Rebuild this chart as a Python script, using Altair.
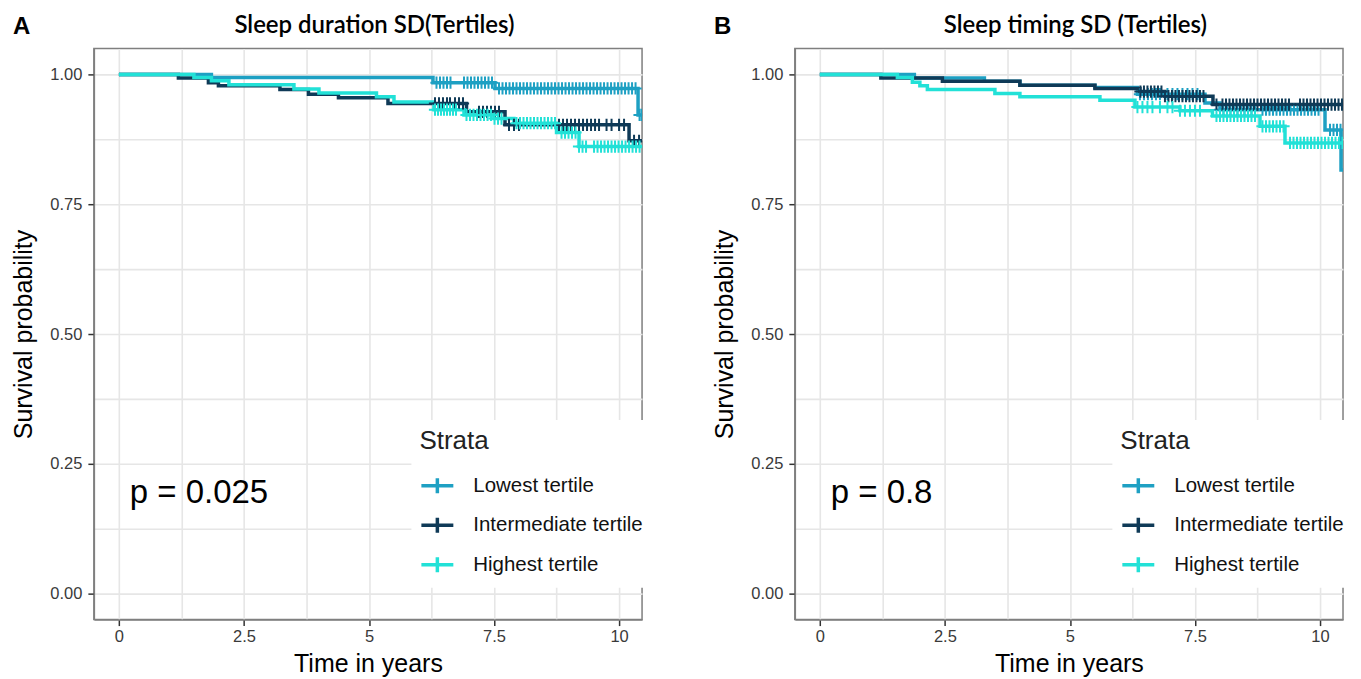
import altair as alt
import pandas as pd

strata = ["Lowest tertile", "Intermediate tertile", "Highest tertile"]
colors = ["#1EA0C3", "#0F3A57", "#22E1D7"]

# ---------------- Panel A: Sleep duration SD ----------------
a_low_t = [0, 1.85, 6.28, 7.52, 10.38]
a_low_s = [1.0, 0.994, 0.984, 0.973, 0.922]
a_mid_t = [0, 1.19, 1.79, 1.99, 3.22, 3.79, 4.39, 5.38, 6.95, 7.72, 10.2]
a_mid_s = [1.0, 0.993, 0.984, 0.978, 0.971, 0.962, 0.955, 0.944, 0.928, 0.903, 0.872]
a_high_t = [0, 1.5, 1.85, 2.2, 3.5, 4.0, 5.15, 5.5, 6.3, 6.9, 7.5, 7.9, 8.75, 9.2]
a_high_s = [1.0, 0.994, 0.988, 0.98, 0.972, 0.964, 0.957, 0.947, 0.932, 0.922, 0.915, 0.906, 0.888, 0.861]

a_low_c = [6.35, 6.42, 6.49, 6.56, 6.63, 6.9, 6.97, 7.04, 7.11, 7.18, 7.25, 7.32, 7.39, 7.46,
           7.6, 7.67, 7.74, 7.81, 7.88, 7.95, 8.02, 8.09, 8.16, 8.23, 8.3, 8.37, 8.44, 8.51,
           8.58, 8.65, 8.72, 8.79, 8.86, 8.93, 9.0, 9.07, 9.14, 9.21, 9.28, 9.35, 9.42, 9.49,
           9.56, 9.63, 9.7, 9.77, 9.84, 9.91, 9.98, 10.05, 10.12, 10.19, 10.26, 10.33, 10.41, 10.45]
a_mid_c = [6.32, 6.4, 6.48, 6.56, 6.62, 6.72, 6.8, 6.88, 7.2, 7.28, 7.36, 7.44, 7.52, 7.6,
           7.8, 7.9, 8.0, 8.8, 8.88, 8.96, 9.04, 9.12, 9.2, 9.28, 9.36, 9.44, 9.52, 9.6,
           9.75, 9.85, 10.0, 10.1, 10.3, 10.4]
a_high_c = [6.32, 6.38, 6.44, 6.5, 6.56, 6.62, 6.68, 6.74, 6.95, 7.02, 7.09, 7.16, 7.23, 7.3,
            7.37, 7.44, 7.51, 7.58, 7.65, 7.95, 8.02, 8.09, 8.16, 8.23, 8.3, 8.37, 8.44, 8.51,
            8.58, 8.65, 8.72, 8.85, 8.92, 8.99, 9.06, 9.13, 9.2, 9.27, 9.34, 9.5, 9.57, 9.64,
            9.71, 9.78, 9.85, 9.92, 9.99, 10.06, 10.13, 10.2, 10.27, 10.34, 10.41]

# ---------------- Panel B: Sleep timing SD ----------------
b_low_t = [0, 1.89, 3.29, 4.0, 5.5, 6.35, 7.7, 8.0, 10.1, 10.42]
b_low_s = [1.0, 0.993, 0.987, 0.979, 0.975, 0.962, 0.945, 0.932, 0.893, 0.816]
b_mid_t = [0, 1.22, 2.45, 4.0, 5.5, 6.4, 6.9, 7.86]
b_mid_s = [1.0, 0.993, 0.987, 0.979, 0.973, 0.967, 0.958, 0.942]
b_high_t = [0, 1.55, 1.85, 2.0, 2.15, 3.5, 4.0, 5.6, 6.3, 7.2, 7.85, 8.8, 9.3]
b_high_s = [1.0, 0.994, 0.985, 0.978, 0.971, 0.963, 0.957, 0.95, 0.937, 0.93, 0.92, 0.9, 0.868]

b_low_c = [6.4, 6.48, 6.56, 6.64, 6.72, 6.8, 6.95, 7.05, 7.15, 7.25, 7.35, 7.45, 7.55,
           8.0, 8.07, 8.14, 8.21, 8.28, 8.35, 8.42, 8.49, 8.56, 8.63, 8.7, 8.85, 8.92, 8.99,
           9.06, 9.13, 9.2, 9.27, 9.34, 9.41, 9.48, 9.55, 9.62, 9.69, 9.76, 9.83, 9.9, 9.97,
           10.2, 10.27, 10.34, 10.41]
b_mid_c = [6.41, 6.48, 6.55, 6.62, 6.69, 6.76, 6.83, 6.9, 6.97, 7.04, 7.11, 7.18, 7.25, 7.32,
           7.39, 7.46, 7.53, 7.6, 7.67, 7.93, 8.05, 8.12, 8.19, 8.26, 8.33, 8.4, 8.47, 8.54,
           8.61, 8.68, 8.75, 8.82, 8.89, 8.96, 9.03, 9.1, 9.17, 9.24, 9.31, 9.38, 9.6, 9.67,
           9.74, 9.81, 9.88, 9.95, 10.02, 10.09, 10.16, 10.23, 10.3, 10.37, 10.44]
b_high_c = [6.35, 6.45, 6.55, 6.65, 6.8, 6.95, 7.05, 7.2, 7.3, 7.4, 7.5, 7.6, 7.93, 8.0,
            8.07, 8.14, 8.21, 8.28, 8.35, 8.42, 8.49, 8.56, 8.63, 8.7, 8.85, 8.92, 8.99, 9.06,
            9.13, 9.2, 9.27, 9.4, 9.47, 9.54, 9.61, 9.68, 9.75, 9.82, 9.89, 9.96, 10.03, 10.1,
            10.17, 10.24, 10.31, 10.38, 10.45]

x_grid = [0, 1.25, 2.5, 3.75, 5, 6.25, 7.5, 8.75, 10]
x_tick_values = [0, 2.5, 5, 7.5, 10]
x_tick_labels = ["0", "2.5", "5", "7.5", "10"]
y_grid = [0, 0.125, 0.25, 0.375, 0.5, 0.625, 0.75, 0.875, 1.0]
y_tick_values = [0, 0.25, 0.5, 0.75, 1.0]
y_tick_labels = ["0.00", "0.25", "0.50", "0.75", "1.00"]

TMAX = 10.8


def step_df(ts_list, ss_list):
    rows = []
    for name, ts, ss in zip(strata, ts_list, ss_list):
        for t, s in zip(ts, ss):
            rows.append({"strata": name, "t": t, "s": s})
        rows.append({"strata": name, "t": TMAX, "s": ss[-1]})
    return pd.DataFrame(rows)


def cens_df(ts_list, ss_list, cs_list):
    rows = []
    for name, ts, ss, cs in zip(strata, ts_list, ss_list, cs_list):
        for c in cs:
            s = ss[0]
            for t, v in zip(ts, ss):
                if t <= c:
                    s = v
            rows.append({"strata": name, "t": c, "s": s})
    return pd.DataFrame(rows)


def arr(vals):
    return "[" + ",".join(repr(v) for v in vals) + "]"


def label_expr(vals, labels):
    v = arr(vals)
    l = "[" + ",".join("'" + s + "'" for s in labels) + "]"
    return f"indexof({v}, datum.value) >= 0 ? {l}[indexof({v}, datum.value)] : ''"


def tick_cond(vals):
    return {"condition": {"test": f"indexof({arr(vals)}, datum.value) < 0", "value": 0}, "value": 1}


AXFONT = "Liberation Sans"

x_axis = alt.Axis(values=x_grid, labelExpr=label_expr(x_tick_values, x_tick_labels),
                  tickOpacity=tick_cond(x_tick_values), title="Time in years",
                  titleFontSize=25, titlePadding=6, labelPadding=3)
y_axis = alt.Axis(values=y_grid, labelExpr=label_expr(y_tick_values, y_tick_labels),
                  tickOpacity=tick_cond(y_tick_values), title="Survival probability",
                  titleFontSize=25, titlePadding=13, minExtent=44, maxExtent=44, labelPadding=6)

legend = alt.Legend(
    orient="none", legendX=318, legendY=372, title="Strata",
    titleFont=AXFONT, titleFontSize=26, titleFontWeight="normal", titleColor="#222222",
    titlePadding=14, labelFont=AXFONT, labelFontSize=20.5, labelColor="#111111",
    labelOffset=18, labelLimit=300, symbolType="M-1,0H1M0,-0.47V0.47", symbolSize=1024,
    symbolStrokeWidth=3.5, symbolFillColor="transparent", fillColor="white",
    padding=8, rowPadding=6.5, direction="vertical")


def panel(lines, cens, title, letter, ptext):
    x = alt.X("t:Q", scale=alt.Scale(domain=[-0.5, 10.46], nice=False, zero=False), axis=x_axis)
    y = alt.Y("s:Q", scale=alt.Scale(domain=[-0.05, 1.05], nice=False, zero=False), axis=y_axis)
    color = alt.Color("strata:N", scale=alt.Scale(domain=strata, range=colors), legend=legend)
    layers = []
    for name in strata:
        layers.append(
            alt.Chart(lines).transform_filter(alt.datum.strata == name)
            .mark_line(interpolate="step-after", strokeWidth=3.5, clip=True)
            .encode(x=x, y=y, color=color))
    for name in strata:
        layers.append(
            alt.Chart(cens).transform_filter(alt.datum.strata == name)
            .mark_point(shape="M-1,0H1M0,-1V1", filled=False, size=150, strokeWidth=2,
                        opacity=1, clip=True)
            .encode(x=x, y=y, color=color))
    letter_layer = alt.Chart(pd.DataFrame({"lab": [letter]})).mark_text(
        align="left", baseline="middle", font=AXFONT, fontSize=24, fontWeight="bold",
        color="black").encode(x=alt.value(-81), y=alt.value(-21), text="lab:N")
    title_layer = alt.Chart(pd.DataFrame({"lab": [title]})).mark_text(
        align="center", baseline="middle", font="Lato", fontSize=24, fontWeight=600,
        color="black").encode(x=alt.value(281), y=alt.value(-22), text="lab:N")
    p_layer = alt.Chart(pd.DataFrame({"lab": [ptext]})).mark_text(
        align="left", baseline="middle", font=AXFONT, fontSize=33, color="black"
    ).encode(x=alt.value(36), y=alt.value(445), text="lab:N")
    return alt.layer(*layers, letter_layer, title_layer, p_layer).properties(
        width=549, height=572)


pA = panel(step_df([a_low_t, a_mid_t, a_high_t], [a_low_s, a_mid_s, a_high_s]),
           cens_df([a_low_t, a_mid_t, a_high_t], [a_low_s, a_mid_s, a_high_s],
                   [a_low_c, a_mid_c, a_high_c]),
           "Sleep duration SD(Tertiles)", "A", "p = 0.025")
pB = panel(step_df([b_low_t, b_mid_t, b_high_t], [b_low_s, b_mid_s, b_high_s]),
           cens_df([b_low_t, b_mid_t, b_high_t], [b_low_s, b_mid_s, b_high_s],
                   [b_low_c, b_mid_c, b_high_c]),
           "Sleep timing SD (Tertiles)", "B", "p = 0.8")

chart = alt.hconcat(pA, pB, spacing=153, bounds="flush").resolve_legend(
    color="independent").properties(
    padding={"left": 3, "top": 5, "right": 0, "bottom": 0}
).configure_view(stroke="#7F7F7F", strokeWidth=1.5).configure_axis(
    labelFont=AXFONT, labelFontSize=16.5, labelColor="#3A3A3A",
    titleFont=AXFONT, titleFontWeight="normal", titleColor="black",
    gridColor="#E6E6E6", gridWidth=1.6, domainColor="#7F7F7F", domainWidth=1.5,
    tickColor="#333333", tickWidth=1.5, tickSize=6)

chart.save("out.html", embed_options={"renderer": "svg", "actions": False})
